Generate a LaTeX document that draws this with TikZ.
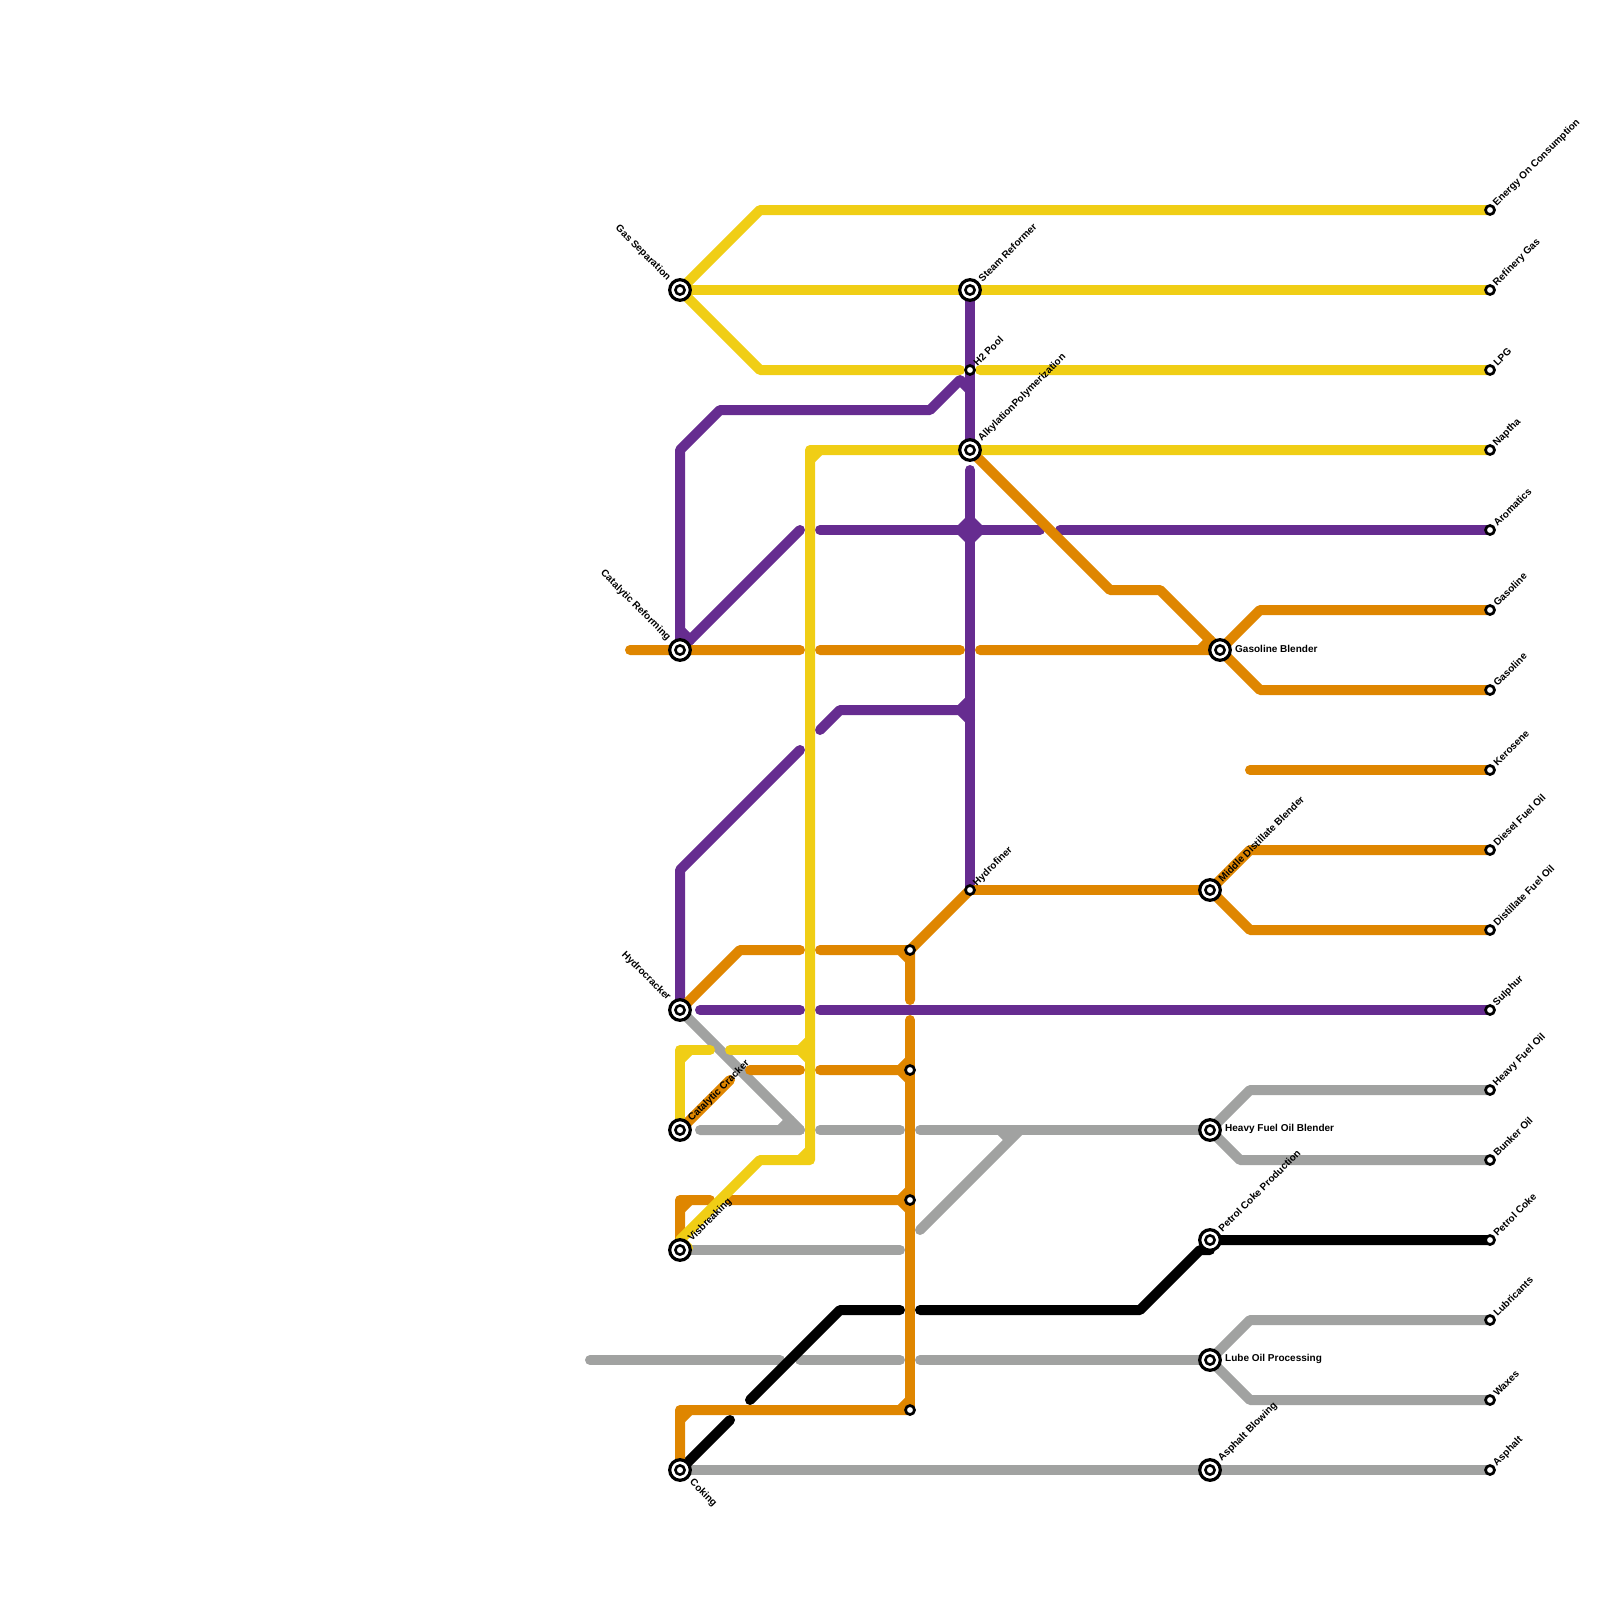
\documentclass[tikz,border=0pt]{standalone}
\usepackage{fontspec}
\setmainfont{Liberation Sans}
\usetikzlibrary{backgrounds}
\definecolor{lineyellow}{HTML}{F0CE15}
\definecolor{linepurple}{HTML}{662C90}
\definecolor{lineorange}{HTML}{DF8600}
\definecolor{linegrey}{HTML}{A1A2A1}

\begin{document}
\begin{tikzpicture}[
    x=1pt, y=-1pt,
    hub/.style={circle, draw=black, fill=white, line width=3.2pt, outer sep=0pt, minimum size=20.6pt, inner sep=0pt,
        path picture={\draw[black, line width=2.6pt] (path picture bounding box.center) circle (4.6pt);}},
    stop/.style={circle, draw=black, fill=white, line width=2.7pt, outer sep=0pt, minimum size=9pt, inner sep=0pt},
    labeltext/.style={inner sep=0pt, font=\fontsize{10}{12}\selectfont\bfseries},
    uplabel/.style={labeltext, rotate=45, anchor=west},
    downlabel/.style={labeltext, rotate=-45, anchor=west},
    backlabel/.style={labeltext, rotate=-45, anchor=east},
    sidelabel/.style={labeltext, anchor=west},
    pipe/.style={line width=10pt, line cap=round, line join=round},
    yellowpipe/.style={pipe, draw=lineyellow},
    purplepipe/.style={pipe, draw=linepurple},
    orangepipe/.style={pipe, draw=lineorange},
    greypipe/.style={pipe, draw=linegrey},
    blackpipe/.style={pipe, draw=black}
]
    \useasboundingbox (0,0) rectangle (1600,1600);

    % process units
    \node[hub] (gassep) at (680,290) {};
    \node[hub] (steam) at (970,290) {};
    \node[hub] (alky) at (970,450) {};
    \node[hub] (catref) at (680,650) {};
    \node[hub] (gasblend) at (1220,650) {};
    \node[hub] (middist) at (1210,890) {};
    \node[hub] (hydrocrack) at (680,1010) {};
    \node[hub] (catcrack) at (680,1130) {};
    \node[hub] (hfoblend) at (1210,1130) {};
    \node[hub] (petcoke) at (1210,1240) {};
    \node[hub] (visbreak) at (680,1250) {};
    \node[hub] (lube) at (1210,1360) {};
    \node[hub] (coking) at (680,1470) {};
    \node[hub] (asphalt) at (1210,1470) {};

    % small stops
    \node[stop] (h2pool) at (970,370) {};
    \node[stop] (hydrofiner) at (970,890) {};
    \node[stop] (junctiona) at (910,950) {};
    \node[stop] (junctionb) at (910,1070) {};
    \node[stop] (junctionc) at (910,1200) {};
    \node[stop] (junctiond) at (910,1410) {};

    % products
    \node[stop] (energy) at (1490,210) {};
    \node[stop] (refgas) at (1490,290) {};
    \node[stop] (lpg) at (1490,370) {};
    \node[stop] (naptha) at (1490,450) {};
    \node[stop] (aromatics) at (1490,530) {};
    \node[stop] (gasolinea) at (1490,610) {};
    \node[stop] (gasolineb) at (1490,690) {};
    \node[stop] (kerosene) at (1490,770) {};
    \node[stop] (diesel) at (1490,850) {};
    \node[stop] (distillate) at (1490,930) {};
    \node[stop] (sulphur) at (1490,1010) {};
    \node[stop] (heavyfuel) at (1490,1090) {};
    \node[stop] (bunker) at (1490,1160) {};
    \node[stop] (petcokeout) at (1490,1240) {};
    \node[stop] (lubricants) at (1490,1320) {};
    \node[stop] (waxes) at (1490,1400) {};
    \node[stop] (asphaltout) at (1490,1470) {};

    % labels
    \path (gassep) ++(-11,-11) node[backlabel] (gassepname) {Gas Separation};
    \path (catref) ++(-11,-11) node[backlabel] (catrefname) {Catalytic Reforming};
    \path (hydrocrack) ++(-11,-11) node[backlabel] (hydrocrackname) {Hydrocracker};
    \path (coking) ++(11,11) node[downlabel] (cokingname) {Coking};
    \path (steam) ++(10,-10) node[uplabel] (steamname) {Steam Reformer};
    \path (alky) ++(10,-10) node[uplabel] (alkyname) {AlkylationPolymerization};
    \path (catcrack) ++(10,-10) node[uplabel] (catcrackname) {Catalytic Cracker};
    \path (visbreak) ++(10,-10) node[uplabel] (visbreakname) {Visbreaking};
    \path (middist) ++(10,-10) node[uplabel] (middistname) {Middle Distillate Blender};
    \path (petcoke) ++(10,-10) node[uplabel] (petcokename) {Petrol Coke Production};
    \path (asphalt) ++(10,-10) node[uplabel] (asphaltname) {Asphalt Blowing};
    \path (h2pool) ++(5,-5.5) node[uplabel] (h2name) {H2 Pool};
    \path (hydrofiner) ++(5,-5.5) node[uplabel] (hydrofinername) {Hydrofiner};
    \path (gasblend) ++(15,-1) node[sidelabel] (gasblendname) {Gasoline Blender};
    \path (hfoblend) ++(15,-1) node[sidelabel] (hfoname) {Heavy Fuel Oil Blender};
    \path (lube) ++(15,-1) node[sidelabel] (lubename) {Lube Oil Processing};
    \path (energy) ++(5,-5.5) node[uplabel] (energyname) {Energy On Consumption};
    \path (refgas) ++(5,-5.5) node[uplabel] (refgasname) {Refinery Gas};
    \path (lpg) ++(5,-5.5) node[uplabel] (lpgname) {LPG};
    \path (naptha) ++(5,-5.5) node[uplabel] (napthaname) {Naptha};
    \path (aromatics) ++(5,-5.5) node[uplabel] (aromaticsname) {Aromatics};
    \path (gasolinea) ++(5,-5.5) node[uplabel] (gasolineaname) {Gasoline};
    \path (gasolineb) ++(5,-5.5) node[uplabel] (gasolinebname) {Gasoline};
    \path (kerosene) ++(5,-5.5) node[uplabel] (kerosenename) {Kerosene};
    \path (diesel) ++(5,-5.5) node[uplabel] (dieselname) {Diesel Fuel Oil};
    \path (distillate) ++(5,-5.5) node[uplabel] (distillatename) {Distillate Fuel Oil};
    \path (sulphur) ++(5,-5.5) node[uplabel] (sulphurname) {Sulphur};
    \path (heavyfuel) ++(5,-5.5) node[uplabel] (heavyfuelname) {Heavy Fuel Oil};
    \path (bunker) ++(5,-5.5) node[uplabel] (bunkername) {Bunker Oil};
    \path (petcokeout) ++(5,-5.5) node[uplabel] (petcokeoutname) {Petrol Coke};
    \path (lubricants) ++(5,-5.5) node[uplabel] (lubricantsname) {Lubricants};
    \path (waxes) ++(5,-5.5) node[uplabel] (waxesname) {Waxes};
    \path (asphaltout) ++(5,-5.5) node[uplabel] (asphaltoutname) {Asphalt};

    % free ends
    \coordinate (crudein) at (630,650);
    \coordinate (vacuumin) at (590,1360);

    \begin{scope}[on background layer]
    % grey
    \draw[greypipe] (hydrocrack.center) -- ++(120,120);
    \draw[greypipe] (catcrack.center) ++(20,0) -- ++(100,0) ++(-20,0) -- ++(10,-10);
    \draw[greypipe] (catcrack.center) ++(140,0) -- ++(80,0);
    \draw[greypipe] (catcrack.center) ++(240,0) -- (hfoblend.center);
    \draw[greypipe] (junctionc.center) ++(10,30) -- ++(100,-100) ++(-20,0) -- ++(10,10);
    \draw[greypipe] (hfoblend.center) -- ++(40,-40) -- (heavyfuel.center);
    \draw[greypipe] (hfoblend.center) -- ++(30,30) -- (bunker.center);
    \draw[greypipe] (visbreak.center) -- ++(220,0);
    \draw[greypipe] (vacuumin) -- ++(190,0) ++(20,0) -- ++(100,0) ++(20,0) -- (lube.center);
    \draw[greypipe] (lube.center) -- ++(40,-40) -- (lubricants.center);
    \draw[greypipe] (lube.center) -- ++(40,40) -- (waxes.center);
    \draw[greypipe] (coking.center) -- (asphaltout.center);
    % black
    \draw[blackpipe] (coking.center) -- ++(50,-50);
    \draw[blackpipe] (coking.center) ++(70,-70) -- ++(90,-90) -- ++(60,0);
    \draw[blackpipe] (coking.center) ++(240,-160) -- ++(220,0) -- ++(60,-60) -- ++(10,0) -- (petcoke.center) -- (petcokeout.center);
    % purple
    \draw[purplepipe] (catref.center) -- ++(0,-200) -- ++(40,-40) -- ++(210,0) -- ++(30,-30) -- ++(10,10);
    \draw[purplepipe] (steam.center) -- (alky.center);
    \draw[purplepipe] (catref.center) -- ++(120,-120);
    \draw[purplepipe] (catref.center) ++(0,-20) -- ++(10,10);
    \draw[purplepipe] (alky.center) ++(0,20) -- (hydrofiner.center);
    \draw[purplepipe] (catref.center) ++(140,-120) -- ++(220,0) ++(20,0) -- (aromatics.center);
    \draw[purplepipe, fill=linepurple, line width=4pt] (970,516) -- (984,530) -- (970,544) -- (956,530) -- cycle;
    \draw[purplepipe] (catref.center) ++(140,80) -- ++(20,-20) -- ++(120,0) -- ++(10,-10) ++(-10,10) -- ++(10,10);
    \draw[purplepipe] (hydrocrack.center) -- ++(0,-140) -- ++(120,-120);
    \draw[purplepipe] (hydrocrack.center) ++(20,0) -- ++(100,0) ++(20,0) -- (sulphur.center);
    % orange
    \draw[orangepipe] (crudein) -- ++(170,0) ++(20,0) -- ++(140,0) ++(20,0) -- (gasblend.center) ++(-20,0) -- ++(10,-10);
    \draw[orangepipe] (alky.center) -- ++(140,140) -- ++(50,0) -- (gasblend.center);
    \draw[orangepipe] (gasblend.center) -- ++(40,-40) -- (gasolinea.center);
    \draw[orangepipe] (gasblend.center) -- ++(40,40) -- (gasolineb.center);
    \draw[orangepipe] (kerosene.center) -- ++(-240,0);
    \draw[orangepipe] (hydrofiner.center) -- (junctiona.center);
    \draw[orangepipe] (hydrofiner.center) -- (middist.center);
    \draw[orangepipe] (middist.center) -- ++(40,-40) -- (diesel.center);
    \draw[orangepipe] (middist.center) -- ++(40,40) -- (distillate.center);
    \draw[orangepipe] (hydrocrack.center) -- ++(60,-60) -- ++(60,0) ++(20,0) -- (junctiona.center) -- ++(0,50) ++(0,-50) ++(-10,0) -- ++(10,10);
    \draw[orangepipe] (junctiona.center) ++(0,70) -- (junctiond.center);
    \draw[orangepipe] (catcrack.center) -- ++(50,-50) ++(20,-10) -- ++(50,0) ++(20,0) -- (junctionb.center) ++(-10,0) -- ++(10,-10) ++(-10,10) -- ++(10,10);
    \draw[orangepipe] (visbreak.center) -- ++(0,-50) -- ++(30,0) ++(20,0) -- (junctionc.center) ++(-10,0) -- ++(10,-10) ++(-10,10) -- ++(10,10);
    \draw[orangepipe] (visbreak.center) ++(0,-40) -- ++(10,-10);
    \draw[orangepipe] (coking.center) -- ++(0,-60) -- (junctiond.center) ++(-10,0) -- ++(10,-10);
    \draw[orangepipe] (coking.center) ++(0,-50) -- ++(10,-10);
    % yellow
    \draw[yellowpipe] (gassep.center) -- ++(80,-80) -- (energy.center);
    \draw[yellowpipe] (gassep.center) -- (refgas.center);
    \draw[yellowpipe] (gassep.center) -- ++(80,80) -- ++(200,0) ++(20,0) -- (lpg.center);
    \draw[yellowpipe] (naptha.center) -- (alky.center) -- ++(-160,0) -- ++(0,710) -- ++(-50,0) -- ++(-80,80) -- ++(8,8);
    \draw[yellowpipe] (alky.center) ++(-160,10) -- ++(10,-10);
    \draw[yellowpipe] (alky.center) ++(-170,710) -- ++(10,-10);
    \draw[yellowpipe] (catcrack.center) -- ++(0,-80) -- ++(30,0) ++(20,0) -- ++(80,0);
    \draw[yellowpipe] (catcrack.center) ++(0,-70) -- ++(10,-10);
    \draw[yellowpipe] (catcrack.center) ++(120,-80) -- ++(10,-10) ++(-10,10) -- ++(10,10);
    \end{scope}
\end{tikzpicture}
\end{document}
